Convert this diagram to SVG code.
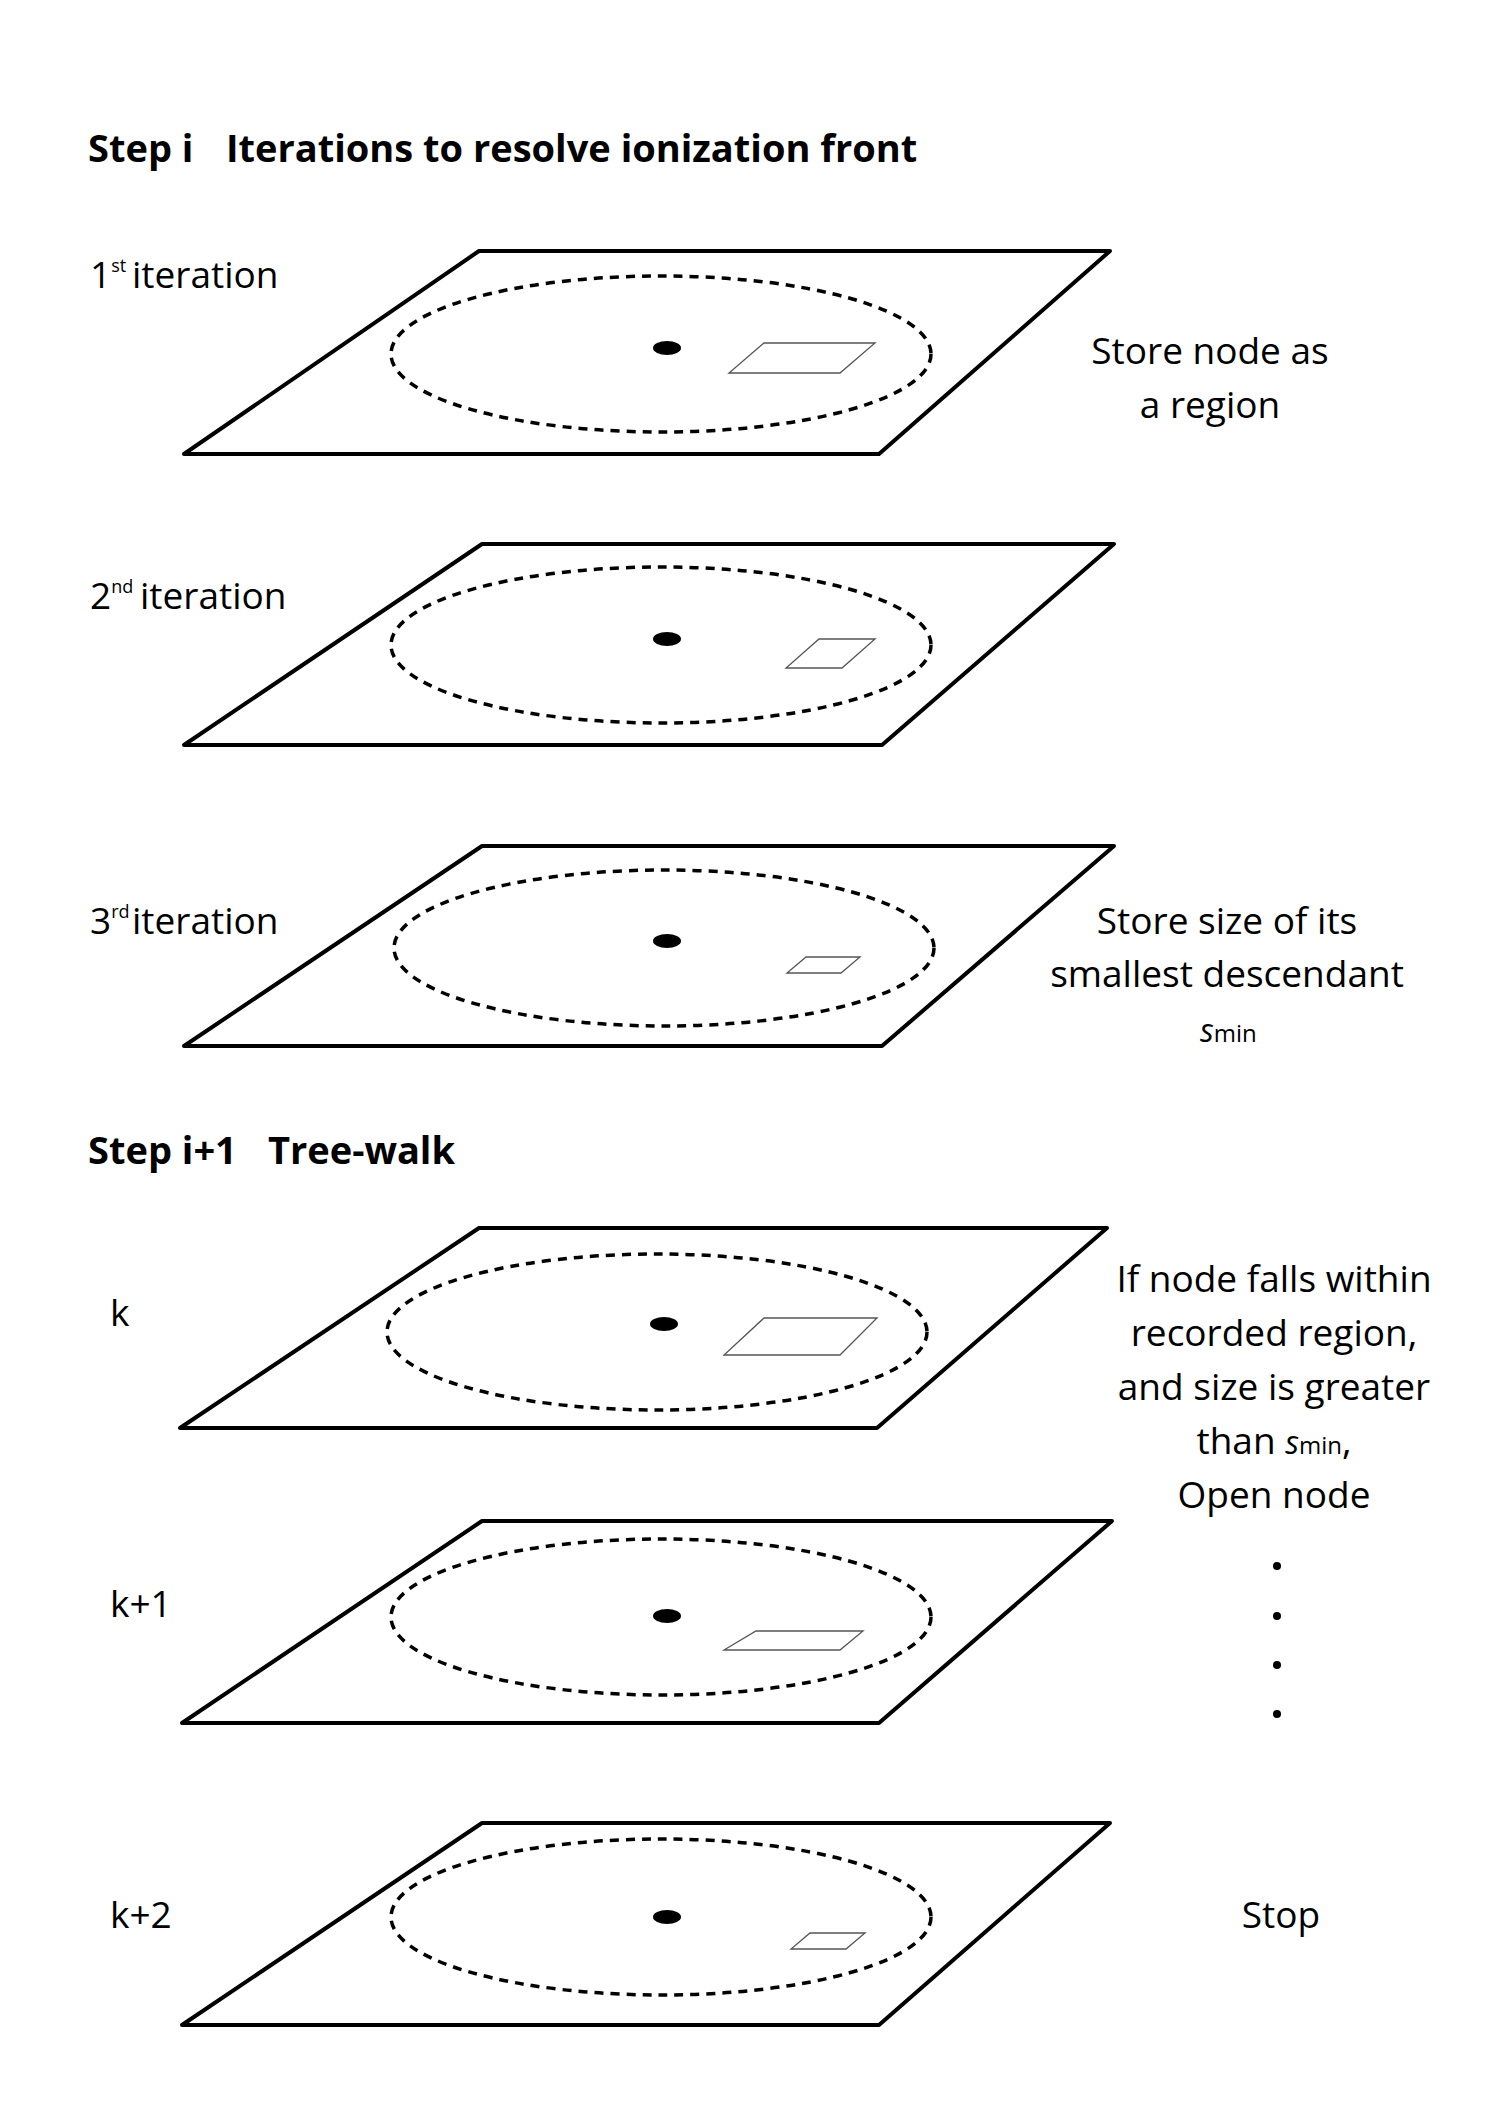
<svg xmlns="http://www.w3.org/2000/svg" width="1493" height="2119" viewBox="0 0 1493 2119">
<style>
.pl{fill:#fff;stroke:#000;stroke-width:4;stroke-linejoin:round}
.el{fill:none;stroke:#000;stroke-width:3.5;stroke-dasharray:9 7}
.sq{fill:#fff;stroke:#555;stroke-width:1.3}
text{font-family:"Open Sans","Liberation Sans",sans-serif;font-size:37px;fill:#000}
.t{font-weight:bold;font-size:38px}
.c{text-anchor:middle}
.sub{font-size:18px}
.sm{font-size:24px}
.it{font-style:italic;font-size:32px}
</style>
<rect width="1493" height="2119" fill="#fff"/>
<text class="t" x="88" y="162">Step i</text>
<text class="t" x="226" y="162">Iterations to resolve ionization front</text>
<text class="t" x="88" y="1164">Step i+1</text>
<text class="t" x="268" y="1164">Tree-walk</text>
<g id="p1">
<polygon class="pl" points="479,251 1110,251 879,454 184,454"/>
<ellipse class="el" cx="661" cy="354" rx="270" ry="78"/>
<ellipse cx="667" cy="348" rx="14" ry="7"/>
<polygon class="sq" points="764,343 875,343 840,373 729,373"/>
<text x="90" y="288">1<tspan class="sub" dy="-16">st</tspan></text>
<text x="132" y="288">iteration</text>
<text class="c" x="1210" y="364">Store node as</text>
<text class="c" x="1210" y="418">a region</text>
</g>
<g id="p2">
<polygon class="pl" points="482,544 1114,544 882,745 184,745"/>
<ellipse class="el" cx="661" cy="645" rx="270" ry="78"/>
<ellipse cx="667" cy="639" rx="14" ry="7"/>
<polygon class="sq" points="819,639 875,639 842,668 786,668"/>
<text x="90" y="609">2<tspan class="sub" dy="-16">nd</tspan></text>
<text x="140" y="609">iteration</text>
</g>
<g id="p3">
<polygon class="pl" points="482,846 1114,846 882,1046 184,1046"/>
<ellipse class="el" cx="664" cy="948" rx="270" ry="78"/>
<ellipse cx="667" cy="941" rx="14" ry="7"/>
<polygon class="sq" points="806,957 860,957 841,973 787,973"/>
<text x="90" y="934">3<tspan class="sub" dy="-16">rd</tspan></text>
<text x="132" y="934">iteration</text>
<text class="c" x="1227" y="934">Store size of its</text>
<text class="c" x="1227" y="987">smallest descendant</text>
<text x="1200" y="1042"><tspan class="it">s</tspan><tspan class="sm">min</tspan></text>
</g>
<g id="p4">
<polygon class="pl" points="479,1228 1107,1228 877,1428 180,1428"/>
<ellipse class="el" cx="657" cy="1332" rx="270" ry="78"/>
<ellipse cx="664" cy="1324" rx="14" ry="7"/>
<polygon class="sq" points="764,1318 877,1318 840,1355 724,1355"/>
<text x="110" y="1326">k</text>
<text class="c" x="1274" y="1292">If node falls within</text>
<text class="c" x="1274" y="1346">recorded region,</text>
<text class="c" x="1274" y="1400">and size is greater</text>
<text class="c" x="1274" y="1454">than <tspan class="it">s</tspan><tspan class="sm">min</tspan>,</text>
<text class="c" x="1274" y="1508">Open node</text>
</g>
<g id="p5">
<polygon class="pl" points="482,1521 1112,1521 879,1723 182,1723"/>
<ellipse class="el" cx="661" cy="1617" rx="270" ry="78"/>
<ellipse cx="667" cy="1616" rx="14" ry="7"/>
<polygon class="sq" points="756,1631 863,1631 840,1650 724,1650"/>
<text x="110" y="1617">k+1</text>
<circle cx="1277" cy="1566" r="4"/>
<circle cx="1277" cy="1616" r="4"/>
<circle cx="1277" cy="1665" r="4"/>
<circle cx="1277" cy="1714" r="4"/>
</g>
<g id="p6">
<polygon class="pl" points="482,1823 1110,1823 879,2025 182,2025"/>
<ellipse class="el" cx="661" cy="1917" rx="270" ry="78"/>
<ellipse cx="667" cy="1917" rx="14" ry="7"/>
<polygon class="sq" points="810,1933 865,1933 846,1949 791,1949"/>
<text x="110" y="1928">k+2</text>
<text class="c" x="1281" y="1928">Stop</text>
</g>
<g id="connectors"/>
</svg>
